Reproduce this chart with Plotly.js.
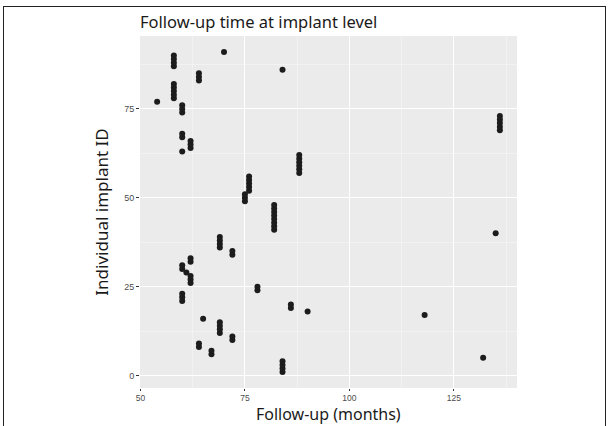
<!DOCTYPE html>
<html>
<head>
<meta charset="utf-8">
<script src="https://cdn.plot.ly/plotly-3.0.1.min.js"></script>
<style>
html, body { margin: 0; padding: 0; background: #fff; }
#wrap { position: relative; width: 610px; height: 426px; overflow: hidden; }
#chart { width: 610px; height: 426px; }
#frame { position: absolute; left: 3px; top: 6px; width: 601px; height: 440px; border: 1.5px solid #222; pointer-events: none; }
</style>
</head>
<body>
<div id="wrap">
  <div id="chart"></div>
  <div id="frame"></div>
</div>
<script>
// Individual implant IDs
const implantId = [1,2,3,4,5,6,7,8,9,10,11,12,13,14,15,16,17,18,19,20,
  21,22,23,24,25,26,27,28,29,30,31,32,33,34,35,36,37,38,39,40,
  41,42,43,44,45,46,47,48,49,50,51,52,53,54,55,56,57,58,59,60,
  61,62,63,64,65,66,67,68,69,70,71,72,73,74,75,76,77,78,79,80,
  81,82,83,84,85,86,87,88,89,90,91];
// Follow-up (months) for each implant, in ID order
const followUpMonths = [84,84,84,84,132,67,67,64,64,72,72,69,69,69,69,65,118,90,86,86,
  60,60,60,78,78,62,62,62,61,60,60,62,62,72,72,69,69,69,69,135,
  82,82,82,82,82,82,82,82,75,75,75,76,76,76,76,76,88,88,88,88,
  88,88,60,62,62,62,60,60,136,136,136,136,136,60,60,60,54,58,58,58,
  58,58,64,64,64,84,58,58,58,58,70];
const xTickVals = [50, 75, 100, 125];
const yTickVals = [0, 25, 50, 75];
const chartTitle = "Follow-up time at implant level";
const xTitle = "Follow-up (months)";
const yTitle = "Individual implant ID";

const trace = {
  type: "scatter",
  mode: "markers",
  x: followUpMonths,
  y: implantId,
  marker: { color: "#1c1c1c", size: 6 },
  hoverinfo: "x+y"
};

const axisCommon = {
  showline: false,
  zeroline: false,
  showgrid: true,
  gridcolor: "#ffffff",
  gridwidth: 1.1,
  ticks: "outside",
  ticklen: 3,
  tickwidth: 1,
  tickcolor: "#333333",
  tickfont: { family: "Liberation Sans, Arial, sans-serif", size: 9, color: "#4d4d4d" },
  tickmode: "array"
};

const marginB = 38;
const marginT = 36;
const plotH = 426 - marginB - marginT;

const layout = {
  width: 610,
  height: 426,
  margin: { l: 140, r: 93, t: marginT, b: marginB },
  paper_bgcolor: "#ffffff",
  plot_bgcolor: "#ebebeb",
  showlegend: false,
  title: {
    text: chartTitle,
    x: 0, xref: "paper", xanchor: "left",
    y: 0.948, yref: "container", yanchor: "middle",
    font: { family: "Noto Sans, Open Sans, sans-serif", size: 16.5, color: "#1a1a1a" }
  },
  xaxis: Object.assign({}, axisCommon, {
    range: [49.9, 140.1],
    tickvals: xTickVals,
    ticktext: xTickVals.map(String),
    ticklen: 2,
    tickfont: { family: "Liberation Sans, Arial, sans-serif", size: 8.5, color: "#4d4d4d" },
    minor: { tickmode: "linear", tick0: 0, dtick: 12.5, showgrid: true, gridcolor: "#f7f7f7", gridwidth: 0.6, ticks: "" }
  }),
  yaxis: Object.assign({}, axisCommon, {
    range: [-3.5, 95.5],
    tickvals: yTickVals,
    ticktext: yTickVals.map(String),
    minor: { tickmode: "linear", tick0: 0, dtick: 12.5, showgrid: true, gridcolor: "#f7f7f7", gridwidth: 0.6, ticks: "" },
    title: { text: yTitle, standoff: 11, font: { family: "Noto Sans, Open Sans, sans-serif", size: 17, color: "#1a1a1a" } }
  }),
  annotations: [{
    text: xTitle,
    xref: "paper", yref: "paper",
    x: 0.5, xanchor: "center",
    y: -marginB / plotH, yanchor: "bottom",
    showarrow: false,
    borderpad: 0,
    font: { family: "Noto Sans, Open Sans, sans-serif", size: 16, color: "#1a1a1a" }
  }]
};

Plotly.newPlot("chart", [trace], layout, { displayModeBar: false, staticPlot: true });
</script>
</body>
</html>
